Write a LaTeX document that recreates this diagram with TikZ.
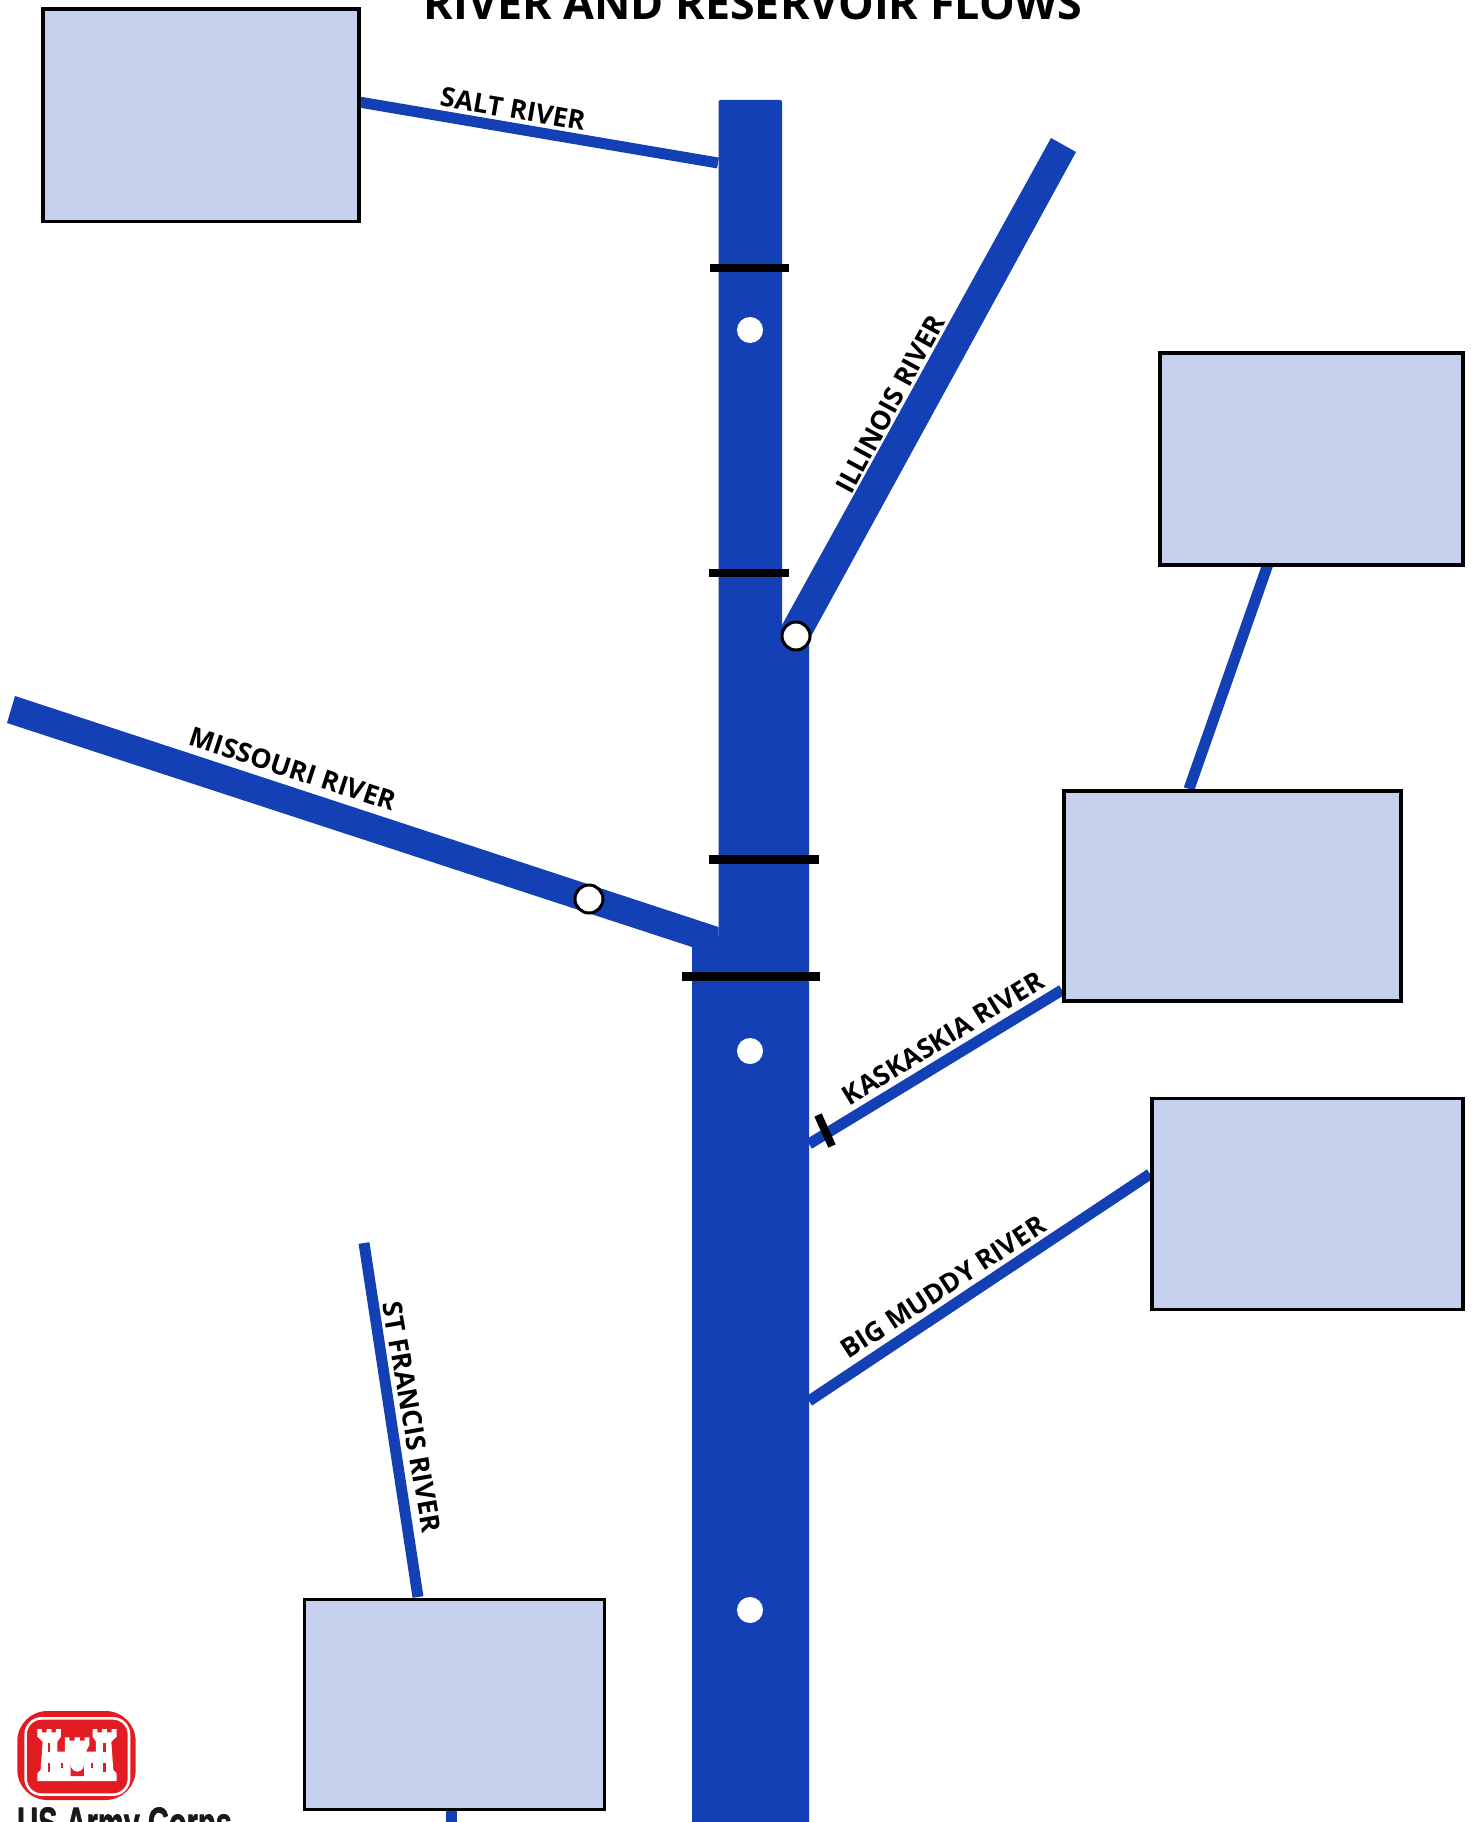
\documentclass[tikz,border=0pt]{standalone}
\usepackage{fontspec}
\setmainfont{Open Sans}
\newfontfamily\logofont[BoldFeatures={FakeBold=1.6}]{Liberation Sans}
\definecolor{river}{HTML}{1340B4}
\definecolor{boxfill}{HTML}{C4D0EC}
\definecolor{usace}{HTML}{E31B23}
\tikzset{
  resbox/.style={draw=black,line width=3.6pt,fill=boxfill,inner sep=0pt,anchor=north west},
  riverline/.style={draw=river,line width=#1},
  damline/.style={draw=black,line width=#1},
  gauge/.style={circle,fill=white,inner sep=0pt,minimum size=26pt},
  lockdam/.style={circle,draw=black,fill=white,line width=3pt,inner sep=0pt,minimum size=28pt},
  rivername/.style={font=\fontsize{26.7}{27}\selectfont\bfseries,text=black,inner sep=0pt},
}
\begin{document}
\begin{tikzpicture}[x=1pt,y=-1pt]
\useasboundingbox (0,0) rectangle (1473,1822);
\clip (0,0) rectangle (1473,1822);
% main river and the two large tributaries
\fill[river] (718.5,102) to[out=90,in=180] (720.5,100) -- (780,100) to[out=0,in=90] (782,102) -- (782,625) -- (809,640) -- (809,1822) -- (692,1822) -- (692,947) -- (718.5,936) -- cycle;
\fill[river] (1051,138) -- (1076,152) -- (809,640) -- (782,625) -- cycle;
\fill[river] (15,696) -- (718.5,927) -- (718.5,955) -- (692,947) -- (7,723) -- cycle;
% free ends
\coordinate (saltE) at (718,163);
\coordinate (b1E) at (359,102);
\coordinate (b2E) at (1268,564);
\coordinate (b3N) at (1189,789);
\coordinate (b3E) at (1062,990);
\coordinate (kasE) at (809,1144);
\coordinate (b4E) at (1150,1174);
\coordinate (bigE) at (809,1401);
\coordinate (sfT) at (364,1243);
\coordinate (b5N) at (418,1597);
\coordinate (b5S) at (451,1809);
\coordinate (b5B) at (451,1822);
\draw[riverline=11pt] (b1E) -- (saltE);
\draw[riverline=11pt] (b2E) -- (b3N);
\draw[riverline=11pt] (b3E) -- (kasE);
\draw[riverline=11pt] (b4E) -- (bigE);
\draw[riverline=11pt] (sfT) -- (b5N);
\draw[riverline=11pt] (b5S) -- (b5B);
% boxes
\node[resbox,minimum width=316pt,minimum height=212pt] (b1) at (41,7.5) {};
\node[resbox,minimum width=303pt,minimum height=212pt] (b2) at (1158,351) {};
\node[resbox,minimum width=337pt,minimum height=210pt] (b3) at (1062,789) {};
\node[resbox,minimum width=311pt,minimum height=211pt] (b4) at (1150,1096.5) {};
\node[resbox,minimum width=300pt,minimum height=210pt] (b5) at (302.5,1597.5) {};
% dam bars
\coordinate (d1a) at (710,268); \coordinate (d1b) at (789,268);
\coordinate (d2a) at (709,573); \coordinate (d2b) at (789,573);
\coordinate (d3a) at (709,859); \coordinate (d3b) at (819,859);
\coordinate (d4a) at (682,976); \coordinate (d4b) at (820,976);
\coordinate (d5a) at (818,1115); \coordinate (d5b) at (832,1146);
\draw[damline=8pt] (d1a) -- (d1b);
\draw[damline=8pt] (d2a) -- (d2b);
\draw[damline=9pt] (d3a) -- (d3b);
\draw[damline=9pt] (d4a) -- (d4b);
\draw[damline=8pt] (d5a) -- (d5b);
% gauges
\node[gauge] (g1) at (750,330) {};
\node[gauge] (g2) at (750,1051) {};
\node[gauge] (g3) at (750,1610) {};
\node[lockdam] (l1) at (796,636) {};
\node[lockdam] (l2) at (589,899) {};
% texts
\node[font=\fontsize{44.8}{45}\selectfont\bfseries,anchor=base,inner sep=0pt] (title) at (753,20) {RIVER AND RESERVOIR FLOWS};
\node[rivername,rotate=-9.8] (salt) at (513,109) {SALT RIVER};
\node[rivername,rotate=61.5] (ill) at (890,404) {ILLINOIS RIVER};
\node[rivername,rotate=-18] (mo) at (293,769) {MISSOURI RIVER};
\node[rivername,rotate=31.5] (kas) at (943,1038) {KASKASKIA RIVER};
\node[rivername,rotate=33] (big) at (943,1287) {BIG MUDDY RIVER};
\node[rivername,rotate=-80] (sf) at (412,1417) {ST FRANCIS RIVER};
% logo
\begin{scope}[shift={(0,1680)},x=0.3333pt,y=-0.3333pt]
\fill[usace,rounded corners=30] (52,93) rectangle (407,360);
\draw[white,line width=2.6pt,rounded corners=16] (77,115) rectangle (387,344);
\fill[white] (112,303) -- (112,280) -- (122,270) -- (128,185) -- (112,170) -- (112,147)
 -- (126,147) -- (126,157) -- (140,157) -- (140,147) -- (155,147) -- (155,157) -- (168,157) -- (168,147) -- (183,147)
 -- (183,170) -- (172,185) -- (172,215) -- (195,215) -- (195,172) -- (208,172) -- (208,182) -- (224,182) -- (224,172) -- (240,172) -- (240,182) -- (254,182) -- (254,172) -- (268,172) -- (268,195) -- (258,215)
 -- (288,215) -- (288,185) -- (278,170) -- (278,147) -- (292,147) -- (292,157) -- (306,157) -- (306,147) -- (321,147) -- (321,157) -- (335,157) -- (335,147) -- (350,147)
 -- (350,170) -- (334,185) -- (340,270) -- (350,280) -- (350,303) -- cycle;
\fill[usace] (212,288) -- (212,255) arc[start angle=180,end angle=0,radius=20] -- (252,288) -- cycle;
\fill[usace] (143,190) rectangle (151,215);
\fill[usace] (309,190) rectangle (317,215);
\fill[usace] (143,248) rectangle (151,275);
\fill[usace] (309,248) rectangle (317,275);
\fill[usace] (183,248) rectangle (190,265);
\fill[usace] (272,248) rectangle (279,265);
\end{scope}
\node[anchor=base west,inner sep=0pt,text=black!90] (logo) at (17,1838) {\scalebox{0.66}[1]{\logofont\bfseries\fontsize{44}{44}\selectfont US Army Corps}};
\end{tikzpicture}
\end{document}
